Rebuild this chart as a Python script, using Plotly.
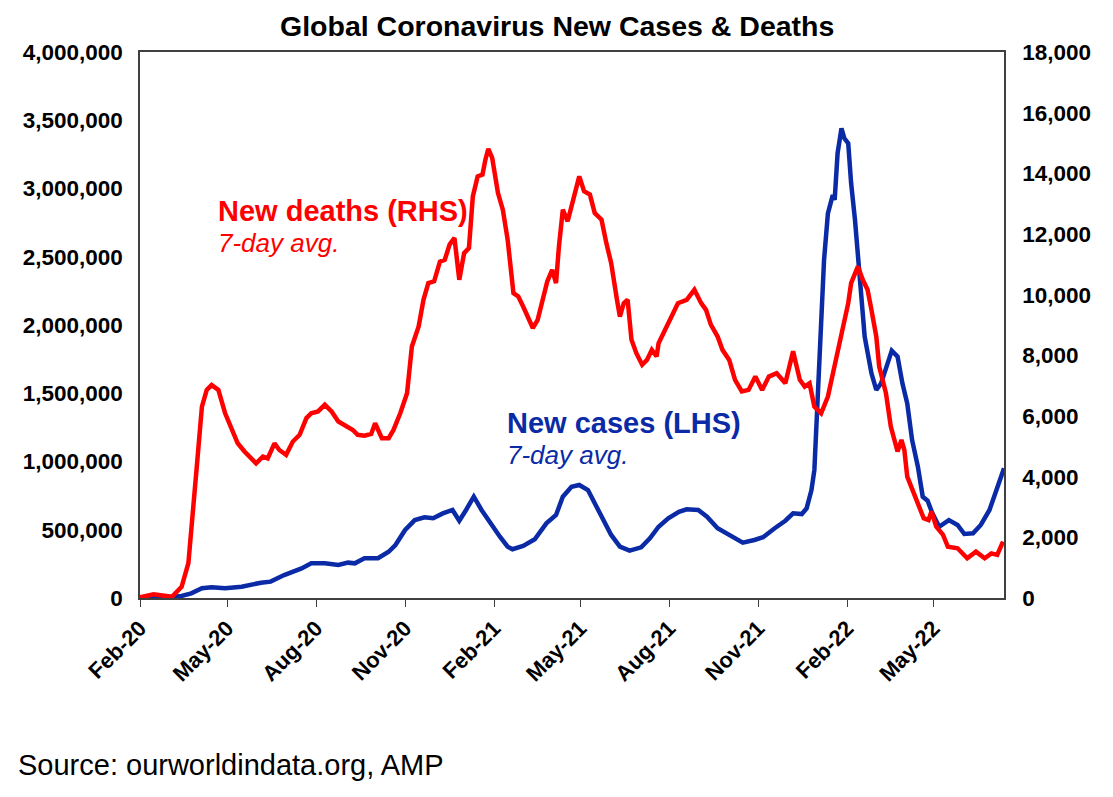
import plotly.graph_objects as go

# New deaths, 7-day avg (right axis)
death_dates = [
    "2020-02-01", "2020-02-15", "2020-03-05", "2020-03-15", "2020-03-22", "2020-03-27",
    "2020-03-31", "2020-04-05", "2020-04-10", "2020-04-15", "2020-04-22", "2020-04-29",
    "2020-05-06", "2020-05-12", "2020-05-19", "2020-05-26", "2020-05-31", "2020-06-07",
    "2020-06-12", "2020-06-19", "2020-06-24", "2020-07-01", "2020-07-08", "2020-07-15",
    "2020-07-22", "2020-07-27", "2020-08-03", "2020-08-10", "2020-08-17", "2020-08-24",
    "2020-09-01", "2020-09-08", "2020-09-13", "2020-09-20", "2020-09-27", "2020-10-01",
    "2020-10-08", "2020-10-15", "2020-10-20", "2020-10-27", "2020-11-03", "2020-11-08",
    "2020-11-15", "2020-11-20", "2020-11-25", "2020-12-01", "2020-12-07", "2020-12-12",
    "2020-12-17", "2020-12-22", "2020-12-27", "2021-01-01", "2021-01-06", "2021-01-10",
    "2021-01-15", "2021-01-20", "2021-01-23", "2021-01-26", "2021-01-30", "2021-02-05",
    "2021-02-10", "2021-02-15", "2021-02-21", "2021-02-26", "2021-03-03", "2021-03-08",
    "2021-03-13", "2021-03-18", "2021-03-23", "2021-03-28", "2021-04-02", "2021-04-06",
    "2021-04-09", "2021-04-13", "2021-04-18", "2021-04-23", "2021-04-30", "2021-05-05",
    "2021-05-11", "2021-05-16", "2021-05-23", "2021-05-28", "2021-06-02", "2021-06-08",
    "2021-06-11", "2021-06-15", "2021-06-19", "2021-06-23", "2021-06-28", "2021-07-04",
    "2021-07-09", "2021-07-14", "2021-07-19", "2021-07-21", "2021-07-28", "2021-08-02",
    "2021-08-10", "2021-08-19", "2021-08-27", "2021-09-03", "2021-09-08", "2021-09-13",
    "2021-09-20", "2021-09-25", "2021-10-02", "2021-10-08", "2021-10-15", "2021-10-22",
    "2021-10-29", "2021-11-05", "2021-11-12", "2021-11-20", "2021-11-29", "2021-12-07",
    "2021-12-14", "2021-12-19", "2021-12-24", "2021-12-29", "2022-01-05", "2022-01-12",
    "2022-01-17", "2022-01-22", "2022-01-28", "2022-02-02", "2022-02-05", "2022-02-12",
    "2022-02-17", "2022-02-22", "2022-02-26", "2022-03-03", "2022-03-06", "2022-03-13",
    "2022-03-18", "2022-03-25", "2022-03-29", "2022-04-01", "2022-04-04", "2022-04-11",
    "2022-04-16", "2022-04-21", "2022-04-26", "2022-04-29", "2022-05-04", "2022-05-11",
    "2022-05-16", "2022-05-26", "2022-06-05", "2022-06-14", "2022-06-23", "2022-06-30",
    "2022-07-06", "2022-07-12",
]
new_deaths = [
    20, 120, 40, 370, 1150, 2790,
    4440, 6310, 6860, 7020, 6860, 6090,
    5540, 5100, 4830, 4610, 4440, 4660,
    4600, 5100, 4880, 4720, 5160, 5380,
    5930, 6090, 6150, 6370, 6150, 5820,
    5650, 5540, 5380, 5350, 5410, 5760,
    5270, 5270, 5540, 6090, 6750, 8290,
    8950, 9830, 10380, 10440, 11090, 11150,
    11650, 11870, 10490, 11370, 11540, 13240,
    13900, 13960, 14450, 14810, 14510, 13350,
    12800, 11810, 10050, 9940, 9610, 9230,
    8900, 9170, 9830, 10440, 10820, 10380,
    11590, 12800, 12420, 13020, 13900, 13410,
    13300, 12690, 12470, 11700, 11040, 9830,
    9280, 9720, 9830, 8510, 8070, 7690,
    7850, 8180, 7960, 8400, 8840, 9170,
    9720, 9830, 10160, 9720, 9500, 9010,
    8620, 8180, 7850, 7190, 6810, 6860,
    7300, 6860, 7300, 7410, 7080, 8130,
    7190, 6970, 7080, 6310, 6090, 6640,
    7410, 8070, 8950, 9720, 10380, 10930,
    10490, 10160, 9500, 8620, 7630, 6750,
    5650, 4830, 5210, 4880, 4000, 3450,
    3120, 2630, 2570, 2850, 2350, 2080,
    1690, 1640, 1310, 1530, 1310, 1470,
    1420, 1860,
]

# New cases, 7-day avg (left axis)
case_dates = [
    "2020-02-01", "2020-03-01", "2020-03-15", "2020-03-25", "2020-04-05", "2020-04-15",
    "2020-04-29", "2020-05-16", "2020-06-05", "2020-06-15", "2020-06-29", "2020-07-17",
    "2020-07-27", "2020-08-10", "2020-08-24", "2020-09-03", "2020-09-10", "2020-09-20",
    "2020-10-04", "2020-10-15", "2020-10-22", "2020-11-01", "2020-11-11", "2020-11-21",
    "2020-11-30", "2020-12-10", "2020-12-20", "2020-12-27", "2021-01-03", "2021-01-11",
    "2021-01-19", "2021-01-27", "2021-02-07", "2021-02-15", "2021-02-20", "2021-03-03",
    "2021-03-15", "2021-03-27", "2021-04-06", "2021-04-13", "2021-04-22", "2021-04-30",
    "2021-05-09", "2021-05-16", "2021-05-25", "2021-06-02", "2021-06-11", "2021-06-21",
    "2021-07-03", "2021-07-12", "2021-07-21", "2021-07-31", "2021-08-11", "2021-08-19",
    "2021-08-31", "2021-09-09", "2021-09-20", "2021-10-04", "2021-10-16", "2021-10-28",
    "2021-11-06", "2021-11-18", "2021-11-29", "2021-12-07", "2021-12-16", "2021-12-21",
    "2021-12-26", "2021-12-29", "2022-01-01", "2022-01-05", "2022-01-08", "2022-01-12",
    "2022-01-17", "2022-01-19", "2022-01-22", "2022-01-26", "2022-01-29", "2022-02-02",
    "2022-02-05", "2022-02-09", "2022-02-12", "2022-02-16", "2022-02-19", "2022-02-26",
    "2022-03-03", "2022-03-08", "2022-03-15", "2022-03-19", "2022-03-25", "2022-03-30",
    "2022-04-04", "2022-04-09", "2022-04-15", "2022-04-20", "2022-04-25", "2022-04-30",
    "2022-05-07", "2022-05-17", "2022-05-26", "2022-06-02", "2022-06-11", "2022-06-19",
    "2022-06-28", "2022-07-05", "2022-07-10", "2022-07-13",
]
new_cases = [
    2000, 5000, 15000, 34000, 71000, 78000,
    71000, 83000, 112000, 120000, 168000, 217000,
    254000, 254000, 242000, 259000, 254000, 291000,
    291000, 339000, 388000, 498000, 571000, 591000,
    584000, 620000, 645000, 566000, 645000, 742000,
    645000, 559000, 449000, 376000, 357000, 381000,
    430000, 547000, 608000, 742000, 815000, 828000,
    791000, 694000, 571000, 462000, 376000, 347000,
    371000, 437000, 522000, 584000, 632000, 650000,
    645000, 596000, 511000, 449000, 405000, 425000,
    445000, 511000, 566000, 620000, 615000, 657000,
    791000, 938000, 1377000, 1988000, 2476000, 2818000,
    2952000, 2916000, 3258000, 3441000, 3368000, 3331000,
    3038000, 2769000, 2500000, 2134000, 1914000, 1646000,
    1524000, 1573000, 1719000, 1812000, 1768000, 1573000,
    1426000, 1158000, 962000, 742000, 713000, 620000,
    522000, 571000, 535000, 469000, 474000, 535000,
    645000, 779000, 877000, 950000,
]

RED = "#ff0000"
BLUE = "#0a2aa6"
FONT = "Arial, Liberation Sans, sans-serif"

# the page adds an 8px body margin, so the figure is laid out 8px up/left
fig = go.Figure()
fig.add_trace(go.Scatter(x=case_dates, y=new_cases, mode="lines",
                         line=dict(color=BLUE, width=4.5), yaxis="y"))
fig.add_trace(go.Scatter(x=death_dates, y=new_deaths, mode="lines",
                         line=dict(color=RED, width=4.5), yaxis="y2"))

axis_line = dict(showline=True, linecolor="#404040", linewidth=1.5, showgrid=False, zeroline=False)

fig.update_layout(
    width=1113, height=797,
    margin=dict(l=132, r=117, t=44, b=207),
    plot_bgcolor="white", paper_bgcolor="white",
    showlegend=False,
    font=dict(family=FONT, color="black"),
    xaxis=dict(type="date", range=["2020-02-01", "2022-07-13"],
               tick0="2020-02-01", dtick="M3", tickformat="%b-%y",
               tickangle=-45, ticks="outside", ticklen=7, tickcolor="#404040",
               tickfont=dict(size=22, weight="bold"), mirror=True, **axis_line),
    yaxis=dict(range=[0, 4000000], dtick=500000, tickformat=",d",
               tickfont=dict(size=22.5, weight="bold"), ticks="", mirror=True,
               ticklabelstandoff=11, **axis_line),
    yaxis2=dict(range=[0, 18000], dtick=2000, tickformat=",d", overlaying="y",
                side="right", tickfont=dict(size=22.5, weight="bold"), ticks="",
                ticklabelstandoff=12, **axis_line),
)

# title as a top-anchored annotation so its box stays inside the figure
fig.add_annotation(text="<b>Global Coronavirus New Cases & Deaths</b>",
                   xref="paper", yref="paper", x=(556.5 - 140) / 864, y=(598 - 9) / 546,
                   xanchor="center", yanchor="top", showarrow=False, borderpad=0,
                   font=dict(size=28.5, color="black"))

fig.add_annotation(text="<b>New deaths (RHS)</b>", xref="paper", yref="paper",
                   x=(218 - 140) / 864, y=(598 - 211) / 546, xanchor="left", yanchor="middle",
                   showarrow=False, xshift=-2, font=dict(size=29, color=RED))
fig.add_annotation(text="<i>7-day avg.</i>", xref="paper", yref="paper",
                   x=(218 - 140) / 864, y=(598 - 243) / 546, xanchor="left", yanchor="middle",
                   showarrow=False, xshift=-2, font=dict(size=26, color=RED))
fig.add_annotation(text="<b>New cases (LHS)</b>", xref="paper", yref="paper",
                   x=(507 - 140) / 864, y=(598 - 423) / 546, xanchor="left", yanchor="middle",
                   showarrow=False, xshift=-2, font=dict(size=29, color=BLUE))
fig.add_annotation(text="<i>7-day avg.</i>", xref="paper", yref="paper",
                   x=(507 - 140) / 864, y=(598 - 455) / 546, xanchor="left", yanchor="middle",
                   showarrow=False, xshift=-2, font=dict(size=26, color=BLUE))
fig.add_annotation(text="Source: ourworldindata.org, AMP", xref="paper", yref="paper",
                   x=(18 - 140) / 864, y=(598 - 765) / 546, xanchor="left", yanchor="middle",
                   showarrow=False, xshift=-2, font=dict(size=29, color="black"))

fig.write_html("out.html")
